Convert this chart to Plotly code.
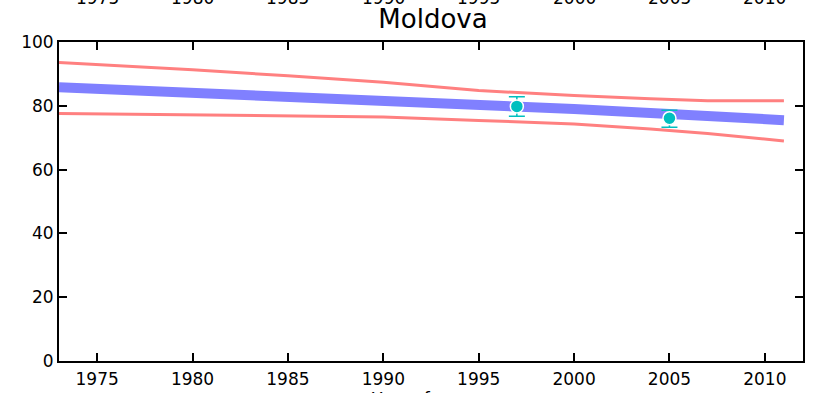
import plotly.graph_objects as go

title = "Moldova"
x_label = "Year of survey"
tick_years = [1975, 1980, 1985, 1990, 1995, 2000, 2005, 2010]
y_ticks = [0, 20, 40, 60, 80, 100]

trend_years = [1973, 1980, 1985, 1990, 1995, 1997, 2000, 2005, 2011]
trend_vals = [85.8, 84.2, 83.0, 81.7, 80.4, 79.9, 79.0, 77.4, 75.5]

upper_years = [1973, 1977, 1980, 1985, 1990, 1995, 2000, 2004, 2007, 2011]
upper_vals = [93.6, 92.4, 91.3, 89.4, 87.4, 84.8, 83.2, 82.2, 81.6, 81.6]

lower_years = [1973, 1977, 1980, 1985, 1990, 1995, 2000, 2004, 2007, 2011]
lower_vals = [77.6, 77.3, 77.1, 76.9, 76.5, 75.4, 74.3, 72.7, 71.3, 69.0]

survey_years = [1997, 2005]
survey_vals = [79.8, 76.1]
survey_hi = [82.8, 78.6]
survey_lo = [76.7, 73.3]

fnt = "DejaVu Sans"
W, H = 813, 393

fig = go.Figure()
fig.add_trace(go.Scatter(x=upper_years, y=upper_vals, mode="lines",
                         line=dict(color="#ff8080", width=3), showlegend=False))
fig.add_trace(go.Scatter(x=lower_years, y=lower_vals, mode="lines",
                         line=dict(color="#ff8080", width=3), showlegend=False))
fig.add_trace(go.Scatter(x=trend_years, y=trend_vals, mode="lines",
                         line=dict(color="#8080ff", width=10), showlegend=False))
fig.add_trace(go.Scatter(
    x=survey_years, y=survey_vals, mode="markers",
    marker=dict(color="#00bfbf", size=13, line=dict(color="white", width=1.5)),
    error_y=dict(type="data", symmetric=False,
                 array=[h - v for h, v in zip(survey_hi, survey_vals)],
                 arrayminus=[v - l for l, v in zip(survey_lo, survey_vals)],
                 color="#00bfbf", thickness=1.5, width=8),
    showlegend=False))

annotations = []
for t in tick_years:
    annotations.append(dict(x=t, y=1, xref="x", yref="paper", text=str(t),
                            showarrow=False, yanchor="bottom", yshift=32,
                            font=dict(family=fnt, size=17, color="black")))
annotations.append(dict(x=0.5, y=0, xref="paper", yref="paper", text=x_label,
                        showarrow=False, yanchor="top", yshift=-26,
                        font=dict(family=fnt, size=17, color="black")))

fig.update_layout(
    width=W, height=H,
    margin=dict(l=59, r=10, t=42, b=32),
    paper_bgcolor="white", plot_bgcolor="white",
    title=dict(text=title, x=433 / W, xanchor="center", y=1 - 19 / H, yanchor="middle",
               yref="container", font=dict(family=fnt, size=26, color="black")),
    annotations=annotations,
    font=dict(family=fnt, size=17, color="black"),
)
fig.update_xaxes(range=[1973, 2012], tickvals=tick_years, showgrid=False, zeroline=False,
                 automargin=False,
                 showline=True, linecolor="black", linewidth=2, mirror="allticks",
                 ticks="inside", ticklen=8, tickwidth=1.5, tickcolor="black",
                 ticklabelstandoff=2,
                 tickfont=dict(family=fnt, size=17, color="black"))
fig.update_yaxes(range=[0, 100], tickvals=y_ticks, showgrid=False, zeroline=False,
                 automargin=False,
                 showline=True, linecolor="black", linewidth=2, mirror="allticks",
                 ticks="inside", ticklen=8, tickwidth=1.5, tickcolor="black",
                 tickfont=dict(family=fnt, size=17, color="black"))

fig.write_html("out.html", config={"displayModeBar": False},
               post_script="document.body.style.margin='0';")
